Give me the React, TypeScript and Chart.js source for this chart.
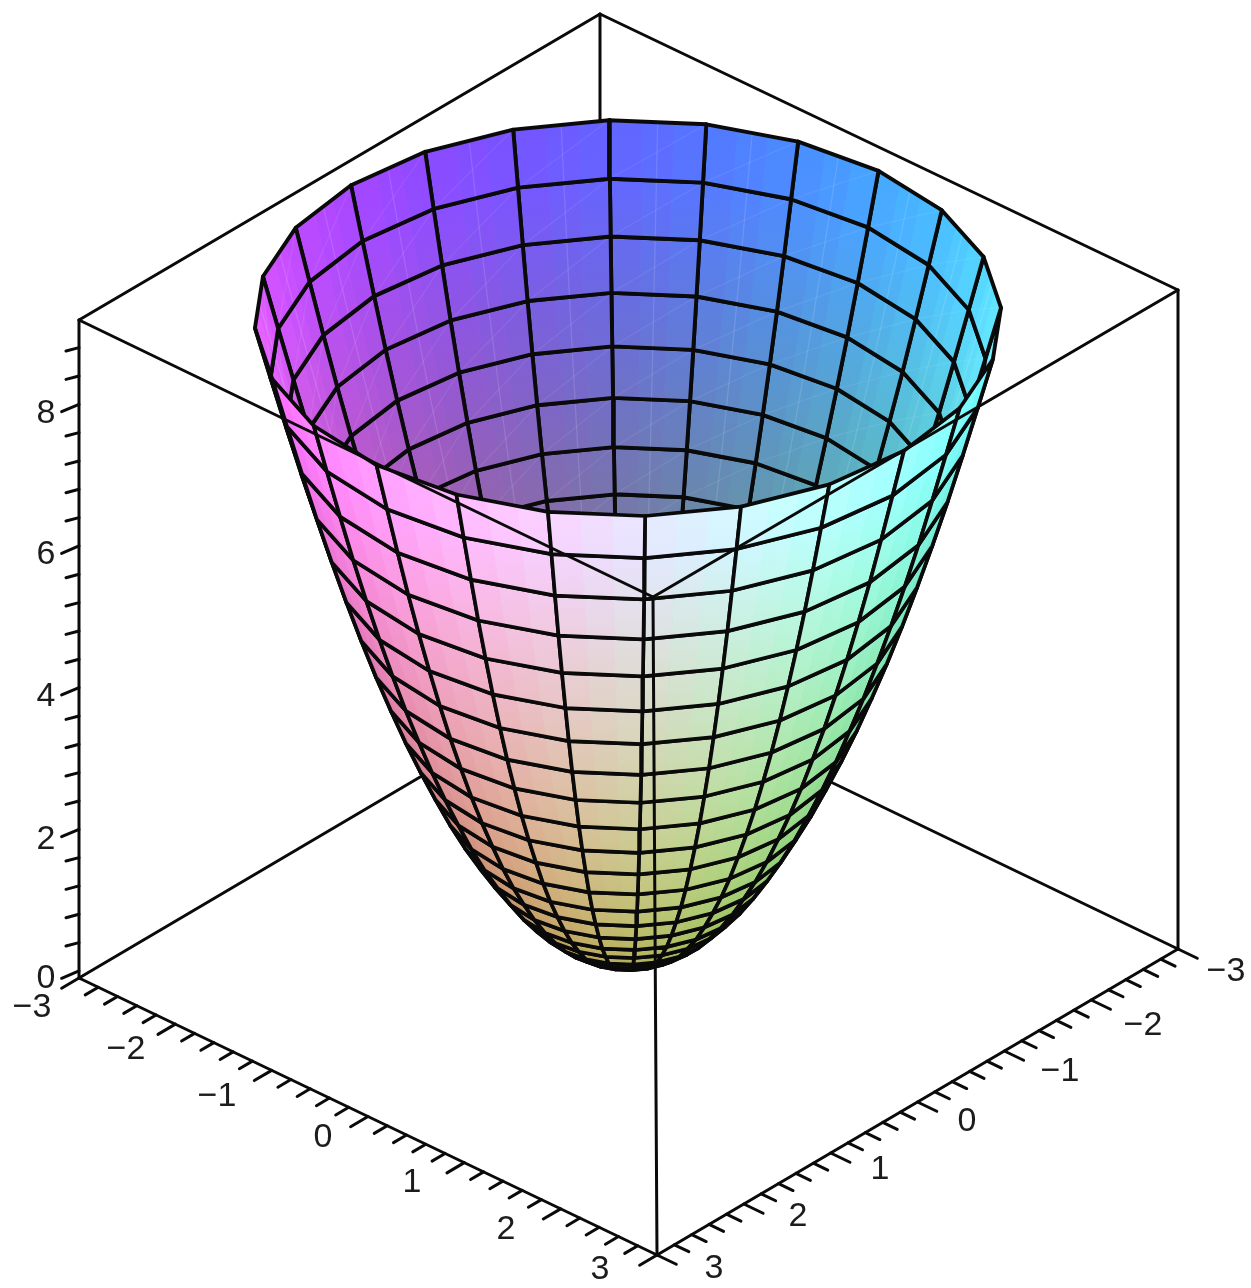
import React, { useEffect, useRef } from "react";
import { Chart, registerables } from "chart.js";

Chart.register(...registerables);

// ---- data: the surface ----
const ringRadii = [0, 0.12, 0.24, 0.36, 0.48, 0.6, 0.72, 0.84, 0.96, 1.08, 1.2, 1.32, 1.44, 1.56, 1.68, 1.8, 1.92, 2.04, 2.16, 2.28, 2.4, 2.52, 2.64, 2.76, 2.88];
const ringHeights = [0.12, 0.14, 0.18, 0.26, 0.37, 0.51, 0.68, 0.89, 1.12, 1.39, 1.69, 2.01, 2.37, 2.77, 3.19, 3.64, 4.13, 4.64, 5.19, 5.77, 6.38, 7.02, 7.7, 8.4, 9.11];
const meridianAngles = [45, 30, 15, 0, -15, -30, -45, -60, -75, -90, -105, -120, -135, -150, -165, -180, -195, -210, -225, -240, -255, -270, -285, -300];

// ---- data: axes ----
const leftAxisLabels = ["−3", "−2", "−1", "0", "1", "2", "3"];
const rightAxisLabels = ["−3", "−2", "−1", "0", "1", "2", "3"];
const heightAxisLabels = ["0", "2", "4", "6", "8"];
const horizontalTicks = [-3, -2.8, -2.6, -2.4, -2.2, -2, -1.8, -1.6, -1.4, -1.2, -1, -0.8, -0.6, -0.4, -0.2, 0, 0.2, 0.4, 0.6, 0.8, 1, 1.2, 1.4, 1.6, 1.8, 2, 2.2, 2.4, 2.6, 2.8, 3];
const heightTicks = [0, 0.4, 0.8, 1.2, 1.6, 2, 2.4, 2.8, 3.2, 3.6, 4, 4.4, 4.8, 5.2, 5.6, 6, 6.4, 6.8, 7.2, 7.6, 8, 8.4, 8.8];
const Z_TOP = 9.29;

// ---- layout: where the box corners fall on the page ----
const W = 1251;
const H = 1288;
const BOX = {
  "-3,3,0": [79, 978], "-3,3,1": [79, 320],
  "3,-3,0": [1178, 949], "3,-3,1": [1178, 290],
  "3,3,0": [657, 1255], "3,3,1": [653, 597],
  "-3,-3,0": [600, 671], "-3,-3,1": [600, 14],
} as Record<string, number[]>;
const LABEL_XY = {
  height: [[46, 979], [46, 840], [46, 697], [46, 555], [46, 414]],
  left: [[32, 1008], [126, 1050], [217, 1097], [323, 1138], [412, 1183], [506, 1230], [600, 1270]],
  right: [[1226, 972], [1143, 1026], [1060, 1072], [967, 1122], [880, 1170], [798, 1217], [714, 1269]],
};

function project(u: number, v: number, z: number) {
  const s = (u + 3) / 6, t = (v + 3) / 6, w = z / Z_TOP;
  const out = [0, 0];
  for (const [cu, fu] of [[-3, 1 - s], [3, s]])
    for (const [cv, fv] of [[-3, 1 - t], [3, t]])
      for (const [cw, fw] of [[0, 1 - w], [1, w]]) {
        const c = BOX[`${cu},${cv},${cw}`];
        out[0] += c[0] * fu * fv * fw;
        out[1] += c[1] * fu * fv * fw;
      }
  return { x: out[0], y: out[1] };
}

const clamp = (a: number) => Math.max(0, Math.min(1, a));
function shade(u: number, v: number, z: number, outside: boolean) {
  const r = (v + 3) / 6, g = (u + 3) / 6, b = z / 9.11;
  const c = outside
    ? [0.85 * r + 0.2, 0.85 * g + 0.2, 0.75 * b + 0.3]
    : [0.78 * r + 0.26, 0.78 * g + 0.26, 0.8 * b + 0.27];
  return `rgb(${c.map((a) => Math.round(clamp(a) * 255)).join(",")})`;
}

type P3 = [number, number, number];
const mix = (a: P3, b: P3, t: number): P3 => [a[0] + (b[0] - a[0]) * t, a[1] + (b[1] - a[1]) * t, a[2] + (b[2] - a[2]) * t];
function vertex(i: number, j: number): P3 {
  const a = (meridianAngles[j % meridianAngles.length] * Math.PI) / 180;
  return [ringRadii[i] * Math.cos(a), ringRadii[i] * Math.sin(a), ringHeights[i]];
}
const proj = (p: P3) => project(p[0], p[1], p[2]);

function lineSet(points: { x: number; y: number }[], width: number, color = "#0a0a0a") {
  return { data: points, borderColor: color, borderWidth: width, borderJoinStyle: "round", borderCapStyle: "round", fill: false, pointRadius: 0, tension: 0, clip: false };
}

function buildDatasets() {
  const under: any[] = [];
  const over: any[] = [];
  const STRIPS = 3;
  for (let i = 0; i < ringRadii.length - 1; i++) {
    for (let j = 0; j < meridianAngles.length; j++) {
      const a = vertex(i, j), b = vertex(i + 1, j), c = vertex(i + 1, j + 1), d = vertex(i, j + 1);
      const poly = [proj(a), proj(b), proj(c), proj(d)];
      let area = 0;
      for (let k = 0; k < 4; k++) {
        const p = poly[k], q = poly[(k + 1) % 4];
        area += p.x * q.y - q.x * p.y;
      }
      const outside = area > 0;
      const group = outside ? over : under;
      for (let s = 0; s < STRIPS; s++) {
        const in0 = mix(a, d, s / STRIPS), in1 = mix(a, d, (s + 1) / STRIPS);
        const out0 = mix(b, c, s / STRIPS), out1 = mix(b, c, (s + 1) / STRIPS);
        const inM = mix(in0, in1, 0.5), outM = mix(out0, out1, 0.5);
        const pi = proj(inM), po = proj(outM);
        const ci = shade(inM[0], inM[1], inM[2], outside), co = shade(outM[0], outM[1], outM[2], outside);
        const paint = (ctx: any) => {
          const { x, y } = ctx.chart.scales;
          const fin = (scale: any, value: number) => {
            const px = scale ? scale.getPixelForValue(value) : value;
            return Number.isFinite(px) ? px : value;
          };
          const g = ctx.chart.ctx.createLinearGradient(fin(x, pi.x), fin(y, pi.y), fin(x, po.x), fin(y, po.y));
          g.addColorStop(0, ci);
          g.addColorStop(1, co);
          return g;
        };
        group.push({
          data: [proj(in0), proj(out0), proj(out1), proj(in1), proj(in0)],
          fill: "shape", backgroundColor: paint, borderColor: paint, borderWidth: 1,
          pointRadius: 0, tension: 0, clip: false,
        });
      }
      if (!outside && i >= 8) {
        // the faint pale seams inside each cell of the bowl's inner wall
        group.push(lineSet([proj(mix(a, d, 0.5)), proj(mix(b, c, 0.5))], 1.3, "rgba(255,255,255,0.13)"));
        group.push(lineSet([poly[1], poly[3]], 1.2, "rgba(255,255,255,0.08)"));
      }
      group.push(lineSet([poly[0], poly[1], poly[2], poly[3], poly[0]], outside ? 3.7 : 3.9));
    }
  }
  const E = 3;
  const edge = (a: number[], b: number[]) => lineSet([project(a[0], a[1], a[2]), project(b[0], b[1], b[2])], E);
  const back = [
    edge([-3, 3, Z_TOP], [-3, -3, Z_TOP]), edge([3, -3, Z_TOP], [-3, -3, Z_TOP]), edge([-3, -3, 0], [-3, -3, Z_TOP]),
    edge([-3, 3, 0], [-3, -3, 0]), edge([3, -3, 0], [-3, -3, 0]),
  ];
  const front = [
    edge([-3, 3, 0], [-3, 3, Z_TOP]), edge([3, -3, 0], [3, -3, Z_TOP]), edge([3, 3, 0], [3, 3, Z_TOP]),
    edge([-3, 3, Z_TOP], [3, 3, Z_TOP]), edge([3, -3, Z_TOP], [3, 3, Z_TOP]),
    edge([-3, 3, 0], [3, 3, 0]), edge([3, -3, 0], [3, 3, 0]),
  ];
  const ticks: any[] = [];
  horizontalTicks.forEach((t) => {
    const major = Number.isInteger(t);
    const len = major ? 0.2 : 0.15;
    ticks.push(lineSet([project(t, 3, 0), project(t, 3 + len, 0)], E));
    ticks.push(lineSet([project(3, t, 0), project(3 + len, t, 0)], E));
  });
  heightTicks.forEach((t, k) => {
    const major = k % 5 === 0;
    const start = project(-3, 3, t + 0.1);
    const end = major ? project(-3, 3.2, t + 0.14) : project(-3, 3.15, t + 0.16);
    ticks.push(lineSet([start, end], E));
  });
  return [...back, ...under, ...over, ...front, ...ticks];
}

const labelPlugin = {
  id: "boxLabels",
  afterDraw(chart: any) {
    const { ctx, scales } = chart;
    ctx.save();
    ctx.fillStyle = "#1c1c1c";
    ctx.font = '34px "Liberation Sans"';
    ctx.textAlign = "center";
    ctx.textBaseline = "middle";
    const put = (labels: string[], xy: number[][]) =>
      labels.forEach((text, i) => ctx.fillText(text, scales.x.getPixelForValue(xy[i][0]), scales.y.getPixelForValue(xy[i][1])));
    put(heightAxisLabels, LABEL_XY.height);
    put(leftAxisLabels, LABEL_XY.left);
    put(rightAxisLabels, LABEL_XY.right);
    ctx.restore();
  },
};

export default function App() {
  const ref = useRef<HTMLCanvasElement>(null);
  useEffect(() => {
    document.body.style.margin = "0";
    document.body.style.overflow = "hidden";
    const datasets = buildDatasets().reverse();
    const chart = new Chart(ref.current as HTMLCanvasElement, {
      type: "line",
      data: { datasets: datasets as any },
      options: {
        animation: false,
        responsive: false,
        events: [],
        layout: { padding: 0 },
        plugins: { legend: { display: false }, tooltip: { enabled: false }, title: { display: false } },
        scales: {
          x: { type: "linear", display: false, min: 0, max: W },
          y: { type: "linear", display: false, min: 0, max: H, reverse: true },
        },
      },
      plugins: [labelPlugin],
    } as any);
    return () => chart.destroy();
  }, []);
  return <canvas ref={ref} width={W} height={H} style={{ display: "block", width: W, height: H, background: "#fff", filter: "blur(0.7px)" }} />;
}
